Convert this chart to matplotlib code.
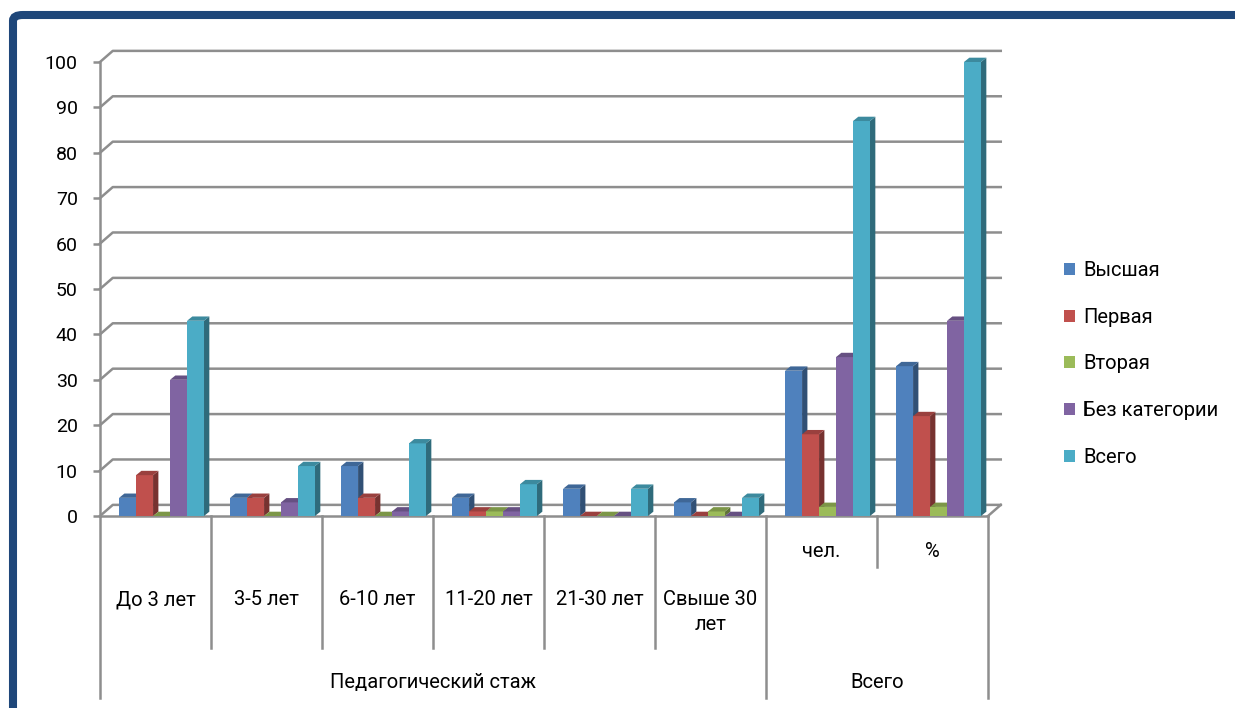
import matplotlib
matplotlib.use('Agg')
import matplotlib.pyplot as plt
from matplotlib.patches import Rectangle, Polygon, Patch, FancyBboxPatch
from matplotlib.lines import Line2D
import matplotlib.colors as mcolors

plt.rcParams['font.family'] = ['Roboto', 'DejaVu Sans']

# data
categories = ['До 3 лет', '3-5 лет', '6-10 лет', '11-20 лет', '21-30 лет', 'Свыше 30\nлет', 'чел.', '%']
series_names = ['Высшая', 'Первая', 'Вторая', 'Без категории', 'Всего']
vysshaya = [4, 4, 11, 4, 6, 3, 32, 33]
pervaya = [9, 4, 4, 1, 0, 0, 18, 22]
vtoraya = [0, 0, 0, 1, 0, 1, 2, 2]
bez_kat = [30, 3, 1, 1, 0, 0, 35, 43]
vsego = [43, 11, 16, 7, 6, 4, 87, 100]
groups = ['Педагогический стаж', 'Всего']
group_sizes = [6, 2]
yticks = list(range(0, 101, 10))

series = [vysshaya, pervaya, vtoraya, bez_kat, vsego]
colors = ['#4F81BD', '#C0504D', '#9BBB59', '#8064A2', '#4BACC6']
txt_c = '#000000'

W, H = 1235, 708
fig = plt.figure(figsize=(W / 100, H / 100), dpi=100)
ax = fig.add_axes([100 / W, (H - 516) / H, 888 / W, 454 / H])
ax.set_xlim(0, len(categories))
ax.set_ylim(0, 100)

grid_c = '#8E8E8E'
# wall depth offsets (data units)
wdx, wdy = 0.115, 2.45
# bar depth offsets
bdx, bdy = 0.048, 0.95
bw = 0.153
start = 0.172

# back wall gridlines
for v in yticks:
    ax.add_line(Line2D([0, wdx, len(categories) + wdx], [v, v + wdy, v + wdy],
                       color=grid_c, lw=1.8, zorder=1, clip_on=False))
# floor
ax.add_line(Line2D([0, len(categories)], [0, 0], color=grid_c, lw=1.8, zorder=1, clip_on=False))
ax.add_line(Line2D([len(categories), len(categories) + wdx], [0, wdy], color=grid_c, lw=1.8,
                   zorder=1, clip_on=False))


def shade(c, f):
    r, g, b = mcolors.to_rgb(c)
    return (r * f, g * f, b * f)


z = 2
for g in range(len(categories)):
    for s, vals in enumerate(series):
        v = vals[g]
        x0 = g + start + s * bw
        c = colors[s]
        ax.add_patch(Rectangle((x0, 0), bw, v, facecolor=c, edgecolor='none', zorder=z, clip_on=False))
        ax.add_patch(Polygon([(x0 + bw, 0), (x0 + bw + bdx, bdy), (x0 + bw + bdx, v + bdy), (x0 + bw, v)],
                             closed=True, facecolor=shade(c, 0.62), edgecolor='none', zorder=z, clip_on=False))
        ax.add_patch(Polygon([(x0, v), (x0 + bdx, v + bdy), (x0 + bw + bdx, v + bdy), (x0 + bw, v)],
                             closed=True, facecolor=shade(c, 0.8), edgecolor='none', zorder=z, clip_on=False))
        z += 1

# axes styling
for sp in ['top', 'right', 'bottom']:
    ax.spines[sp].set_visible(False)
ax.spines['left'].set_color(grid_c)
ax.spines['left'].set_linewidth(1.8)
ax.set_xticks([])
ax.set_yticks(yticks)
ax.tick_params(axis='y', length=5, width=1.8, color=grid_c, pad=11, labelsize=14, labelcolor=txt_c)
ax.patch.set_visible(False)

# multi-level category axis
line_kw = dict(color=grid_c, lw=1.8, clip_on=False, zorder=1)
pos = 0
for gi, n in enumerate(group_sizes):
    ax.add_line(Line2D([pos, pos], [0, -40], **line_kw))
    for k in range(1, n):
        inner = -29 if gi == 0 else -11.2
        ax.add_line(Line2D([pos + k, pos + k], [0, inner], **line_kw))
    ax.text(pos + n / 2, -36.6, groups[gi], ha='center', va='center', fontsize=14.5, color=txt_c, clip_on=False)
    pos += n
ax.add_line(Line2D([pos, pos], [0, -40], **line_kw))

for i, lab in enumerate(categories):
    if i < 6:
        ax.text(i + 0.5, -16.3, lab, ha='center', va='top', fontsize=14.5, linespacing=1.4,
                color=txt_c, clip_on=False)
    else:
        ax.text(i + 0.5, -7.9, lab, ha='center', va='center', fontsize=14.5, color=txt_c, clip_on=False)

# legend
handles = [Patch(facecolor=c, edgecolor='none') for c in colors]
fig.legend(handles, series_names, loc='center left', bbox_to_anchor=(1054 / W, 1 - 364 / H),
           frameon=False, fontsize=14.5, handlelength=0.55, handleheight=0.55, handletextpad=0.4,
           labelspacing=1.38, borderpad=0, labelcolor=txt_c)

# navy frame
frame = FancyBboxPatch((13 / W, -60 / H), 1300 / W, (H - 15 + 60) / H,
                       boxstyle='round,pad=0,rounding_size=0.008', transform=fig.transFigure,
                       facecolor='none', edgecolor='#1F477A', lw=5.8, zorder=10)
fig.patches.append(frame)

fig.savefig('out.png', dpi=100)
